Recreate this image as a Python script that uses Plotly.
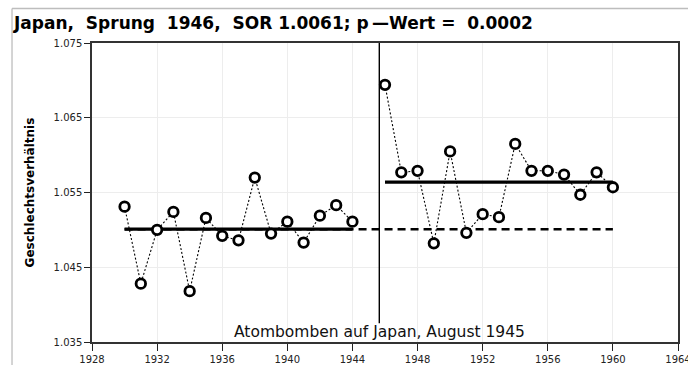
import plotly.graph_objects as go

# ---- data ----
years_before = list(range(1930, 1945))
ratio_before = [1.0531, 1.0428, 1.0500, 1.0524, 1.0418, 1.0516, 1.0492, 1.0486,
                1.0570, 1.0495, 1.0511, 1.0483, 1.0519, 1.0533, 1.0511]
years_after = list(range(1946, 1961))
ratio_after = [1.0694, 1.0577, 1.0579, 1.0482, 1.0605, 1.0496, 1.0521, 1.0517,
               1.0615, 1.0579, 1.0579, 1.0574, 1.0547, 1.0577, 1.0557]
level_before = 1.0501
level_after = 1.0564
event_year = 1945.65
event_label = "Atombomben auf Japan, August 1945"
x_ticks = list(range(1928, 1965, 4))
y_ticks = [1.035, 1.045, 1.055, 1.065, 1.075]
title_text = "Japan,\u00a0 Sprung\u00a0 1946,\u00a0 SOR 1.0061; p\u2009\u2014Wert =\u00a0 0.0002"
y_title = "Geschlechtsverhältnis"

FONT = "DejaVu Sans, Liberation Sans, sans-serif"

fig = go.Figure()

# dashed continuation of pre-event level
fig.add_trace(go.Scatter(
    x=[years_before[0], years_after[-1]], y=[level_before, level_before],
    mode="lines", line=dict(color="black", width=2.5, dash="8px,5px"),
    hoverinfo="skip", showlegend=False))

# dotted connecting lines
for xs, ys in ((years_before, ratio_before), (years_after, ratio_after)):
    fig.add_trace(go.Scatter(
        x=xs, y=ys, mode="lines",
        line=dict(color="black", width=1.1, dash="2px,2px"),
        showlegend=False))

# level lines
fig.add_trace(go.Scatter(
    x=[years_before[0], years_before[-1]], y=[level_before, level_before],
    mode="lines", line=dict(color="black", width=3.2), showlegend=False))
fig.add_trace(go.Scatter(
    x=[years_after[0], years_after[-1]], y=[level_after, level_after],
    mode="lines", line=dict(color="black", width=3.2), showlegend=False))

# markers
for xs, ys in ((years_before, ratio_before), (years_after, ratio_after)):
    fig.add_trace(go.Scatter(
        x=xs, y=ys, mode="markers",
        marker=dict(symbol="circle", size=9.5, color="white",
                    line=dict(color="black", width=2.8)),
        showlegend=False))

# event line
fig.add_shape(type="line", xref="x", yref="y",
              x0=event_year, x1=event_year, y0=1.075, y1=1.0375,
              line=dict(color="black", width=1.4))
fig.add_annotation(x=event_year, y=1.0363, xref="x", yref="y",
                   text=event_label, showarrow=False,
                   xanchor="center", yanchor="middle",
                   font=dict(family=FONT, size=15.5, color="#111"))

# y-axis title
fig.add_annotation(x=-0.106, y=0.5, xref="paper", yref="paper",
                   text=y_title, textangle=-90, showarrow=False,
                   xanchor="center", yanchor="middle",
                   font=dict(family=FONT, size=12, color="black", weight="bold"))

# outer gray border lines
fig.add_shape(type="line", xref="paper", yref="paper",
              x0=-0.1365, x1=-0.1365, y0=-0.2, y1=1.1154,
              line=dict(color="#bdbdbd", width=1.3))
fig.add_shape(type="line", xref="paper", yref="paper",
              x0=-0.1365, x1=1.05, y0=1.1154, y1=1.1154,
              line=dict(color="#bdbdbd", width=1.3))

fig.update_layout(
    width=688, height=365,
    margin=dict(l=92, r=10, t=43, b=23),
    paper_bgcolor="white", plot_bgcolor="white",
    title=dict(text=title_text, xref="container", yref="container",
               x=14 / 688, y=1 - 23 / 365, xanchor="left", yanchor="middle",
               font=dict(family=FONT, size=17, color="black", weight="bold")),
    xaxis=dict(range=[1928, 1964], tickvals=x_ticks, ticks="outside", ticklen=7,
               tickwidth=1.3, tickcolor="#222", showline=True, linecolor="#333",
               linewidth=1.5, mirror=True, showgrid=True, gridcolor="#ededed",
               zeroline=False, automargin=False, ticklabeloverflow="allow",
               tickfont=dict(family=FONT, size=10, color="#222")),
    yaxis=dict(range=[1.035, 1.075], tickvals=y_ticks, tickformat=".3f",
               ticks="outside", ticklen=6, tickwidth=1.3, tickcolor="#222",
               showline=True, linecolor="#333", linewidth=1.5, mirror=True,
               showgrid=True, gridcolor="#ededed", zeroline=False,
               automargin=False,
               tickfont=dict(family=FONT, size=10, color="#222")),
)

fig.write_html("out.html", config={"displayModeBar": False},
               post_script="document.body.style.margin='0';document.body.style.overflow='hidden';")
